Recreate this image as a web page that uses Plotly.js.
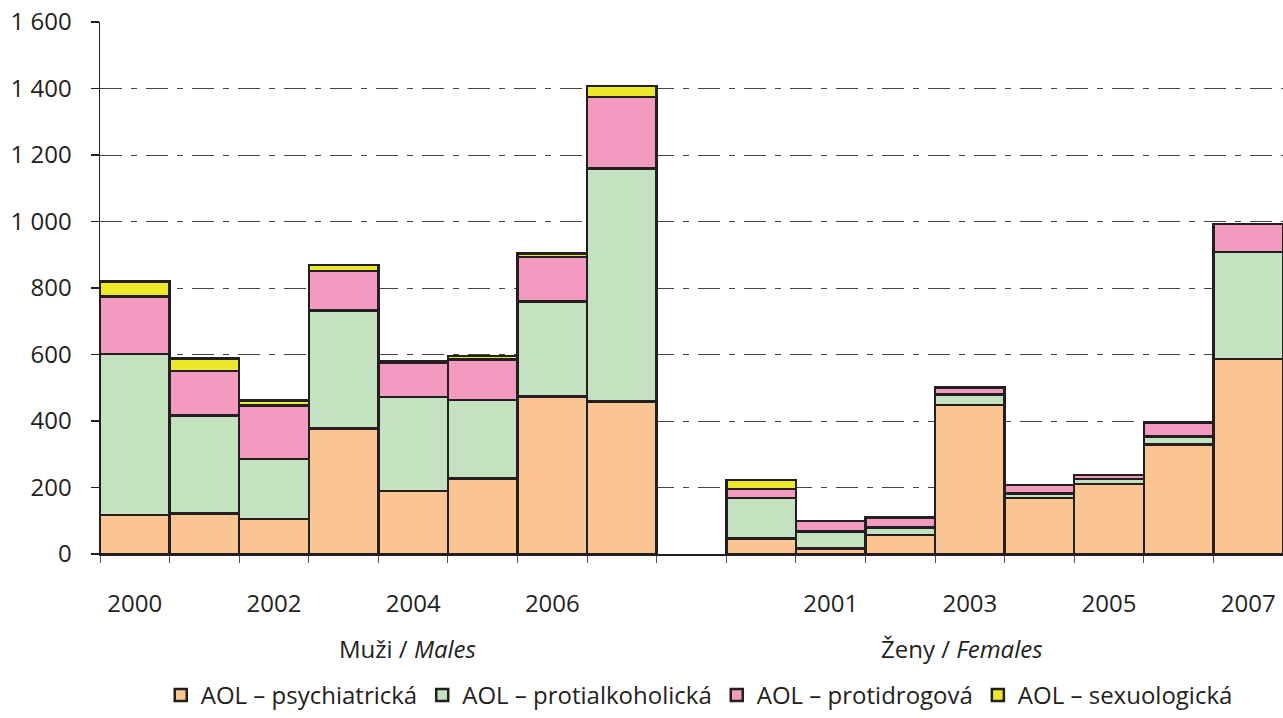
<!DOCTYPE html>
<html>
<head>
<meta charset="utf-8">
<script src="https://cdn.plot.ly/plotly-3.0.1.min.js"></script>
<style>html,body{margin:0;padding:0;background:#fff;}#chart{width:1283px;height:718px;}</style>
</head>
<body>
<div id="chart"></div>
<script>
// Data
const years = [2000, 2001, 2002, 2003, 2004, 2005, 2006, 2007];
const groups = ['Muži / <i>Males</i>', 'Ženy / <i>Females</i>'];
const seriesNames = ['AOL – psychiatrická', 'AOL – protialkoholická', 'AOL – protidrogová', 'AOL – sexuologická'];
const malePsych = [117, 122, 106, 378, 190, 227, 473, 458];
const maleAlc   = [484, 295, 180, 354, 282, 236, 286, 702];
const maleDrug  = [173, 134, 160, 119, 103, 122, 135, 215];
const maleSex   = [45, 37, 15, 18, 6, 11, 10, 33];
const femalePsych = [46, 16, 57, 448, 169, 210, 330, 587];
const femaleAlc   = [122, 52, 22, 32, 13, 15, 23, 321];
const femaleDrug  = [27, 32, 31, 21, 25, 12, 42, 84];
const femaleSex   = [28, 0, 0, 0, 0, 0, 0, 0];

// Layout helpers: males occupy slots 0..7, one empty slot, females 9..16
const maleX = years.map((y, i) => i);
const femaleX = years.map((y, i) => i + years.length + 1);
const xAll = maleX.concat(femaleX);

const colors = ['#FBC593', '#C4E2C0', '#F29AC0', '#EEE82A'];
const maleSeries = [malePsych, maleAlc, maleDrug, maleSex];
const femaleSeries = [femalePsych, femaleAlc, femaleDrug, femaleSex];

const traces = seriesNames.map((name, k) => ({
  type: 'bar',
  name: name,
  x: xAll,
  y: maleSeries[k].concat(femaleSeries[k]),
  width: 1,
  marker: {color: colors[k], line: {color: '#231F20', width: 2.5}},
  hoverinfo: 'y+name'
}));

const tickvals = [], ticktext = [];
years.forEach((y, i) => { if (y % 2 === 0) { tickvals.push(maleX[i]); ticktext.push(String(y)); } });
years.forEach((y, i) => { if (y % 2 === 1) { tickvals.push(femaleX[i]); ticktext.push(String(y)); } });

const fontFam = 'Open Sans, sans-serif';
const txtColor = '#231F20';
const fs = 24;

const layout = {
  width: 1283, height: 718,
  margin: {l: 100, r: 0, t: 22, b: 164},
  paper_bgcolor: '#fff', plot_bgcolor: '#fff',
  barmode: 'stack', bargap: 0,
  separators: ', ',
  font: {family: fontFam, color: txtColor, size: fs},
  showlegend: true,
  legend: {orientation: 'h', x: 0.545, xref: 'container', xanchor: 'center', y: 6, yref: 'container', yanchor: 'bottom',
           font: {size: fs, family: fontFam, color: txtColor}, itemwidth: 30, tracegroupgap: 0, traceorder: 'normal'},
  xaxis: {
    range: [-0.5, 2 * years.length + 0.5],
    tickmode: 'array', tickvals: tickvals, ticktext: ticktext,
    ticks: '', showgrid: false, zeroline: false,
    showline: true, linecolor: '#231F20', linewidth: 1.5,
    ticklabelstandoff: 28,
    tickfont: {size: fs, family: fontFam, color: txtColor},
    minor: {tickmode: 'linear', tick0: -0.5, dtick: 1, ticks: 'outside', ticklen: 7, tickcolor: '#555', tickwidth: 1, showgrid: false}
  },
  yaxis: {
    range: [0, 1600], dtick: 200, tick0: 0, tickformat: ',d',
    ticks: 'outside', ticklen: 8, tickcolor: '#231F20', tickwidth: 1.2,
    showline: true, linecolor: '#231F20', linewidth: 1.5,
    showgrid: true, gridcolor: '#444', gridwidth: 1, griddash: '22px,9px,6px,9px',
    zeroline: false,
    ticklabelstandoff: 14,
    tickfont: {size: fs, family: fontFam, color: txtColor}
  },
  annotations: [
    {text: groups[0], xref: 'paper', yref: 'paper', x: 0.26, y: -0.177, xanchor: 'center', yanchor: 'middle', showarrow: false, font: {size: fs, family: fontFam, color: txtColor}},
    {text: groups[1], xref: 'paper', yref: 'paper', x: 0.729, y: -0.177, xanchor: 'center', yanchor: 'middle', showarrow: false, font: {size: fs, family: fontFam, color: txtColor}}
  ]
};

Plotly.newPlot('chart', traces, layout, {displayModeBar: false, staticPlot: true});
</script>
</body>
</html>
